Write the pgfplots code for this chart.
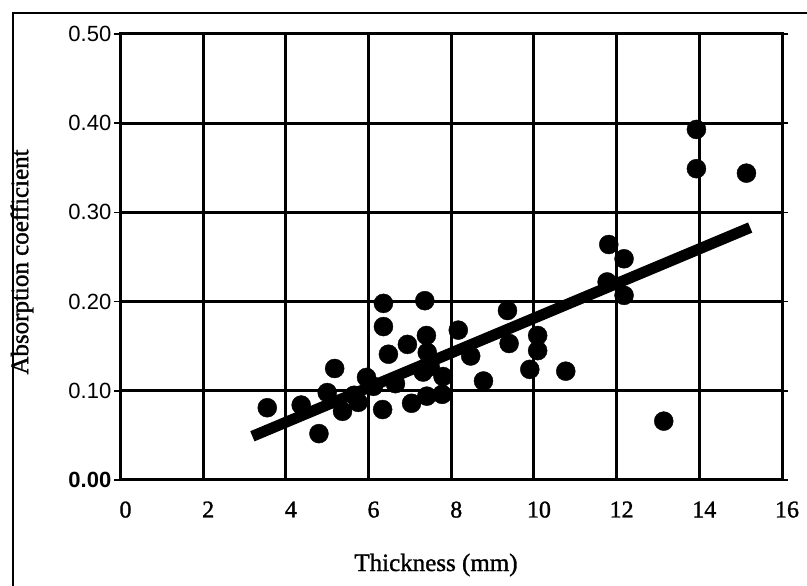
\documentclass[border=0pt]{standalone}
\usepackage{pgfplots}
\pgfplotsset{compat=1.18}
\usepackage{fontspec}
\setmainfont{Liberation Serif}
\newfontfamily\hserif{Liberation Serif}[FakeBold=1.2]
\newfontfamily\sansf{Liberation Sans}

\begin{document}
\begin{tikzpicture}[x=1pt,y=1pt]
\useasboundingbox (0,0) rectangle (807,586);
\draw[line width=1.5pt] (13,0) -- (13,573) -- (807,573);
\begin{axis}[
  at={(120.5pt,106pt)}, anchor=south west,
  scale only axis, width=661.5pt, height=446pt,
  xmin=0, xmax=16, ymin=0, ymax=0.5,
  xtick={0,2,4,6,8,10,12,14,16},
  xticklabels={0,2,4,6,8,10,12,14,16},
  ytick={0,0.1,0.2,0.3,0.4,0.5},
  yticklabels={\textbf{0.00},0.10,0.20,0.30,0.40,0.50},
  grid=major,
  major grid style={line width=3pt, black},
  axis line style={line width=3pt, black},
  xtick style={draw=none},
  ytick style={line width=1.5pt, black},
  tick align=outside,
  major tick length=6pt,
  xticklabel style={font=\hserif\fontsize{24}{28}\selectfont, yshift=-12pt, xshift=5pt},
  yticklabel style={font=\sansf\fontsize{22}{26}\selectfont, inner sep=0pt, anchor=east, xshift=-3pt},
  clip=false,
]
\addplot[only marks, mark=*, mark size=9.5pt, black] coordinates {
(3.55,0.081) (4.37,0.084) (4.80,0.052) (5.18,0.125) (5.00,0.098)
(5.37,0.077) (5.75,0.087) (5.95,0.115) (6.34,0.079) (6.36,0.198)
(6.36,0.172) (6.48,0.141) (6.94,0.152) (7.04,0.086) (7.36,0.201)
(7.40,0.162) (7.42,0.143) (7.32,0.121) (7.41,0.094) (7.80,0.116)
(7.78,0.096) (8.17,0.168) (8.47,0.139) (8.78,0.111) (9.36,0.190)
(9.40,0.153) (9.90,0.124) (10.09,0.162) (10.09,0.145) (10.77,0.122)
(11.81,0.264) (12.18,0.248) (11.77,0.222) (12.18,0.207) (13.14,0.066)
(13.93,0.393) (13.93,0.349) (15.14,0.344)
(5.65,0.095) (6.12,0.105) (6.65,0.108) (7.49,0.127)
};
\addplot[black, line width=11pt, line cap=butt] coordinates {(3.19,0.049) (15.23,0.283)};
\end{axis}
\node[rotate=90, font=\hserif\fontsize{25}{30}\selectfont] at (22,324) {Absorption coefficient};
\node[font=\hserif\fontsize{25}{30}\selectfont] at (436,21) {Thickness (mm)};
\end{tikzpicture}
\end{document}
